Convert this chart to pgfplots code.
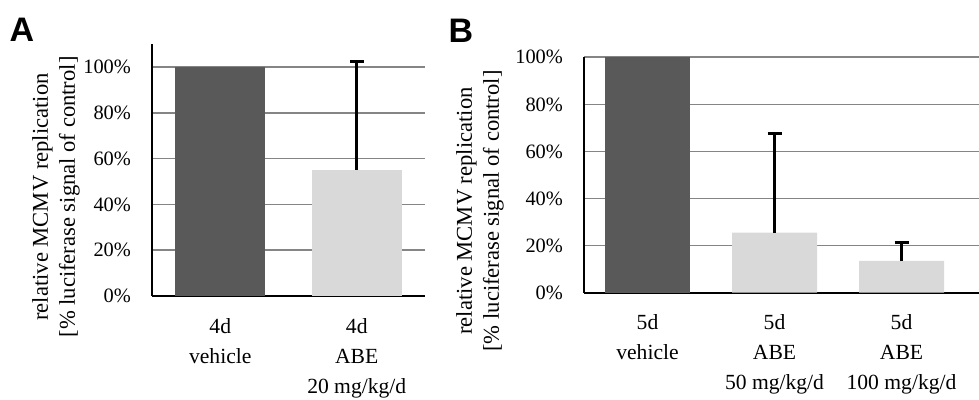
\documentclass[border=0pt]{standalone}
\usepackage{fontspec}
\setmainfont{Liberation Serif}
\newfontfamily\arialfont{Liberation Sans}
\usepackage{pgfplots}
\pgfplotsset{compat=1.18}
\definecolor{darkbar}{HTML}{595959}
\definecolor{lightbar}{HTML}{D9D9D9}
\definecolor{gridc}{HTML}{858585}
\pgfplotsset{mystyle/.style={
  scale only axis, ybar, ymin=0,
  axis x line*=bottom, axis y line*=left,
  axis line style={-, line width=1pt, black},
  ytick={0,20,...,100}, ymajorgrids,
  grid style={gridc, line width=0.8pt},
  major tick length=0pt,
  yticklabel={\pgfmathprintnumber{\tick}\%},
  /pgf/number format/assume math mode=true,
  yticklabel style={xshift=-7pt, font=\fontsize{10.2}{15}\selectfont},
  xticklabel style={align=center, yshift=-7.5pt, font=\fontsize{10.8}{15}\selectfont},
  ylabel style={align=center, font=\fontsize{11.3}{13.5}\selectfont, anchor=center},
  enlargelimits=false, clip=false,
}}
\begin{document}
\begin{tikzpicture}
\useasboundingbox (0,0) rectangle (489.5pt,200pt);
\node[font=\arialfont\bfseries\fontsize{17}{17}\selectfont] at (11pt,185pt) {A};
\node[font=\arialfont\bfseries\fontsize{17}{17}\selectfont] at (230.5pt,184.5pt) {B};
\begin{axis}[mystyle, at={(76pt,52pt)}, anchor=south west,
  width=136.5pt, height=126pt, ymax=110, xmin=-0.5, xmax=1.5,
  bar width=45pt, xtick={0,1},
  xticklabels={{4d\\vehicle},{4d\\ABE\\20 mg/kg/d}},
  ylabel={relative MCMV replication\\{[}\% luciferase signal of control{]}},
  ylabel style={at={(axis description cs:-0.352,0.393)}}]
\addplot[fill=darkbar, draw=none, bar shift=0pt] coordinates {(0,100)};
\addplot[fill=lightbar, draw=none, bar shift=0pt,
  error bars/.cd, y dir=plus, y explicit,
  error bar style={line width=1.5pt, black},
  error mark options={rotate=90, mark size=3.5pt, line width=1.5pt, black}]
  coordinates {(1,55.2) +- (0,47)};
\end{axis}
\begin{axis}[mystyle, at={(292pt,53.65pt)}, anchor=south west,
  width=203.2pt, height=117.7pt, ymax=100, xmin=-0.5, xmax=2.7,
  bar width=42.5pt, xtick={0,1,2},
  xticklabels={{5d\\vehicle},{5d\\ABE\\50 mg/kg/d},{5d\\ABE\\100 mg/kg/d}},
  ylabel={relative MCMV replication\\{[}\% luciferase signal of control{]}},
  ylabel style={at={(axis description cs:-0.256,0.347)}}]
\addplot[fill=darkbar, draw=none, bar shift=0pt] coordinates {(0,100)};
\addplot[fill=lightbar, draw=none, bar shift=0pt,
  error bars/.cd, y dir=plus, y explicit,
  error bar style={line width=1.5pt, black},
  error mark options={rotate=90, mark size=3.5pt, line width=1.5pt, black}]
  coordinates {(1,25.5) +- (0,42) (2,13.5) +- (0,8)};
\end{axis}
\end{tikzpicture}
\end{document}
